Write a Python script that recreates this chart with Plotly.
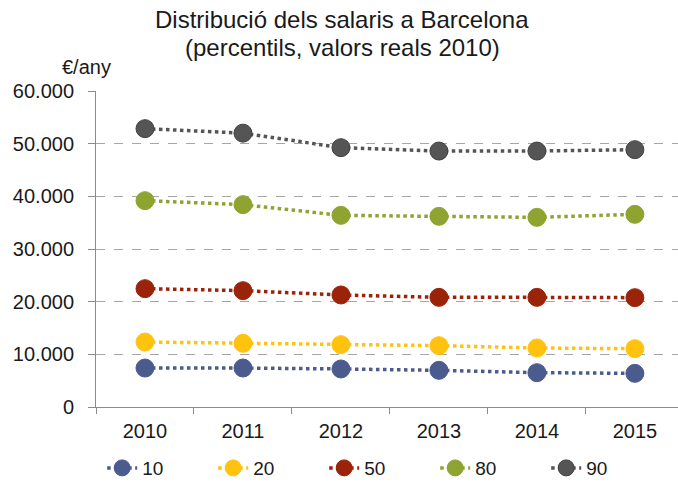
import plotly.graph_objects as go

years = ["2010", "2011", "2012", "2013", "2014", "2015"]
p10 = [7400, 7400, 7220, 6960, 6520, 6390]
p20 = [12340, 12090, 11840, 11650, 11200, 11080]
p50 = [22470, 22090, 21270, 20820, 20820, 20760]
p80 = [39180, 38420, 36390, 36200, 36010, 36580]
p90 = [52850, 52000, 49240, 48600, 48600, 48860]

series = [
    ("10", p10, "#4C5B8E", "#4C5B8E"),
    ("20", p20, "#FFC30F", "#FFC30F"),
    ("50", p50, "#9B2309", "#9B2309"),
    ("80", p80, "#8FA331", "#8FA331"),
    ("90", p90, "#555555", "#404040"),
]

fig = go.Figure()
for name, vals, col, edge in series:
    fig.add_trace(go.Scatter(
        x=years, y=vals, name=name, mode="lines+markers",
        line=dict(color=col, width=3.5, dash="dot"),
        marker=dict(size=18, color=col, line=dict(color=edge, width=1)),
    ))

font = "Liberation Sans, Arial, sans-serif"
tc = "#1a1a1a"
fig.update_layout(
    width=678, height=485,
    margin=dict(l=96, r=0, t=91, b=78),
    paper_bgcolor="white", plot_bgcolor="white",
    separators=",.",
    font=dict(family=font, size=20, color=tc),
    showlegend=True,
    legend=dict(orientation="h", xref="container", x=0.56, xanchor="center",
                yref="container", y=0.035, yanchor="middle",
                entrywidth=66, font=dict(size=19)),
    annotations=[
        dict(text="Distribució dels salaris a Barcelona", xref="paper", yref="paper",
             x=(342 - 96) / 582, y=(407 - 20) / 316, xanchor="center", yanchor="middle",
             showarrow=False, font=dict(size=24, family=font, color=tc)),
        dict(text="(percentils, valors reals 2010)", xref="paper", yref="paper",
             x=(342 - 96) / 582, y=(407 - 48) / 316, xanchor="center", yanchor="middle",
             showarrow=False, font=dict(size=24, family=font, color=tc)),
        dict(text="€/any", xref="paper", yref="paper", x=(86 - 96) / 582, y=(407 - 67) / 316,
             xanchor="center", yanchor="middle", showarrow=False,
             font=dict(size=20, family=font, color=tc)),
    ],
)
fig.update_xaxes(
    type="category", range=[-0.5, 5.44], automargin=False,
    showline=True, linecolor="#8c8c8c", linewidth=1,
    ticks="outside", tickson="boundaries", ticklen=6, tickcolor="#8c8c8c",
    showgrid=False, tickfont=dict(size=20), ticklabelstandoff=6,
)
fig.update_yaxes(
    range=[0, 60000], dtick=10000, tickformat=",.0f", automargin=False,
    showline=True, linecolor="#8c8c8c", linewidth=1,
    ticks="outside", ticklen=7, tickcolor="#8c8c8c",
    showgrid=True, gridcolor="#a6a6a6", griddash="dash", gridwidth=1,
    zeroline=False, tickfont=dict(size=20), ticklabelstandoff=10,
)
fig.write_html("out.html", config={"displayModeBar": False},
               post_script="document.body.style.margin='0';")
